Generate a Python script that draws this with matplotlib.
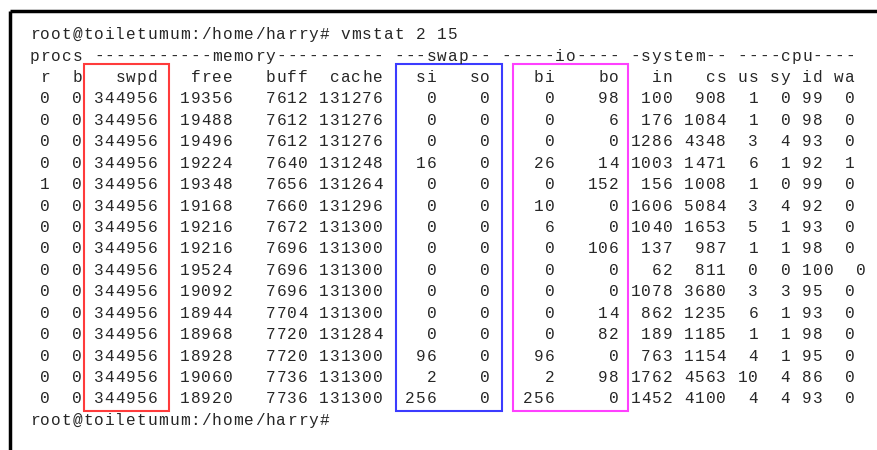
import matplotlib.pyplot as plt
from matplotlib.patches import Rectangle

# vmstat 2 15 output, one list per column
r = [0, 0, 0, 0, 1, 0, 0, 0, 0, 0, 0, 0, 0, 0, 0]
b = [0] * 15
swpd = [344956] * 15
free = [19356, 19488, 19496, 19224, 19348, 19168, 19216, 19216, 19524, 19092, 18944, 18968, 18928, 19060, 18920]
buff = [7612, 7612, 7612, 7640, 7656, 7660, 7672, 7696, 7696, 7696, 7704, 7720, 7720, 7736, 7736]
cache = [131276, 131276, 131276, 131248, 131264, 131296, 131300, 131300, 131300, 131300, 131300, 131284, 131300, 131300, 131300]
si = [0, 0, 0, 16, 0, 0, 0, 0, 0, 0, 0, 0, 96, 2, 256]
so = [0] * 15
bi = [0, 0, 0, 26, 0, 10, 6, 0, 0, 0, 0, 0, 96, 2, 256]
bo = [98, 6, 0, 14, 152, 0, 0, 106, 0, 0, 14, 82, 0, 98, 0]
in_ = [100, 176, 1286, 1003, 156, 1606, 1040, 137, 62, 1078, 862, 189, 763, 1762, 1452]
cs = [908, 1084, 4348, 1471, 1008, 5084, 1653, 987, 811, 3680, 1235, 1185, 1154, 4563, 4100]
us = [1, 1, 3, 6, 1, 3, 5, 1, 0, 3, 6, 1, 4, 10, 4]
sy = [0, 0, 4, 1, 0, 4, 1, 1, 0, 3, 1, 1, 1, 4, 4]
idle = [99, 98, 93, 92, 99, 92, 93, 98, 100, 95, 93, 98, 95, 86, 93]
wa = [0, 0, 0, 1, 0, 0, 0, 0, 0, 0, 0, 0, 0, 0, 0]

prompt = 'root@toiletumum:/home/harry#'
command = prompt + ' vmstat 2 15'
group_line = 'procs -----------memory---------- ---swap-- -----io---- -system-- ----cpu----'
header_line = ' r  b   swpd   free   buff  cache   si   so    bi    bo   in   cs us sy id wa'
fmt = '%2d %2d %6d %6d %6d %6d %4d %4d %5d %5d %4d %4d %2d %2d %2d %2d'

lines = [command, group_line, header_line]
for row in zip(r, b, swpd, free, buff, cache, si, so, bi, bo, in_, cs, us, sy, idle, wa):
    lines.append(fmt % row)
lines.append(prompt)

# boxes as (first column, last column, colour) in character units
boxes = [(5.1, 13.05, '#ff3b3b'), (34.2, 44.1, '#3b3bff'), (45.1, 55.8, '#ff40ff')]

W, H = 877, 450
cw = 10.73   # character cell width in px
lh = 21.43   # line height in px
x0, y0 = 29, 34

fig = plt.figure(figsize=(W / 100, H / 100), dpi=100)
ax = fig.add_axes([0, 0, 1, 1])
ax.set_xlim(-x0 / cw, (W - x0) / cw)
ax.set_ylim((H - y0) / lh, -y0 / lh)
ax.axis('off')

# one glyph per character cell, like a terminal grid
for i, s in enumerate(lines):
    for j, ch in enumerate(s):
        if ch == ' ':
            continue
        ax.text(j + 0.5, i + 0.24, ch, family='Liberation Mono', fontsize=11.6,
                color='#262626', ha='center', va='baseline')

for c0, c1, col in boxes:
    top = 1.4
    bot = 17.6
    ax.add_patch(Rectangle((c0, top), c1 - c0, bot - top, fill=False,
                           edgecolor=col, linewidth=1.5))

# terminal window border (top and left)
ax.plot([-19 / cw, (W - x0) / cw], [-23.5 / lh, -23.5 / lh], color='black', lw=2.5, solid_capstyle='butt')
ax.plot([-19 / cw, -19 / cw], [-23.5 / lh, (H - y0) / lh], color='black', lw=2.5, solid_capstyle='butt')

fig.savefig('out.png', dpi=100)
